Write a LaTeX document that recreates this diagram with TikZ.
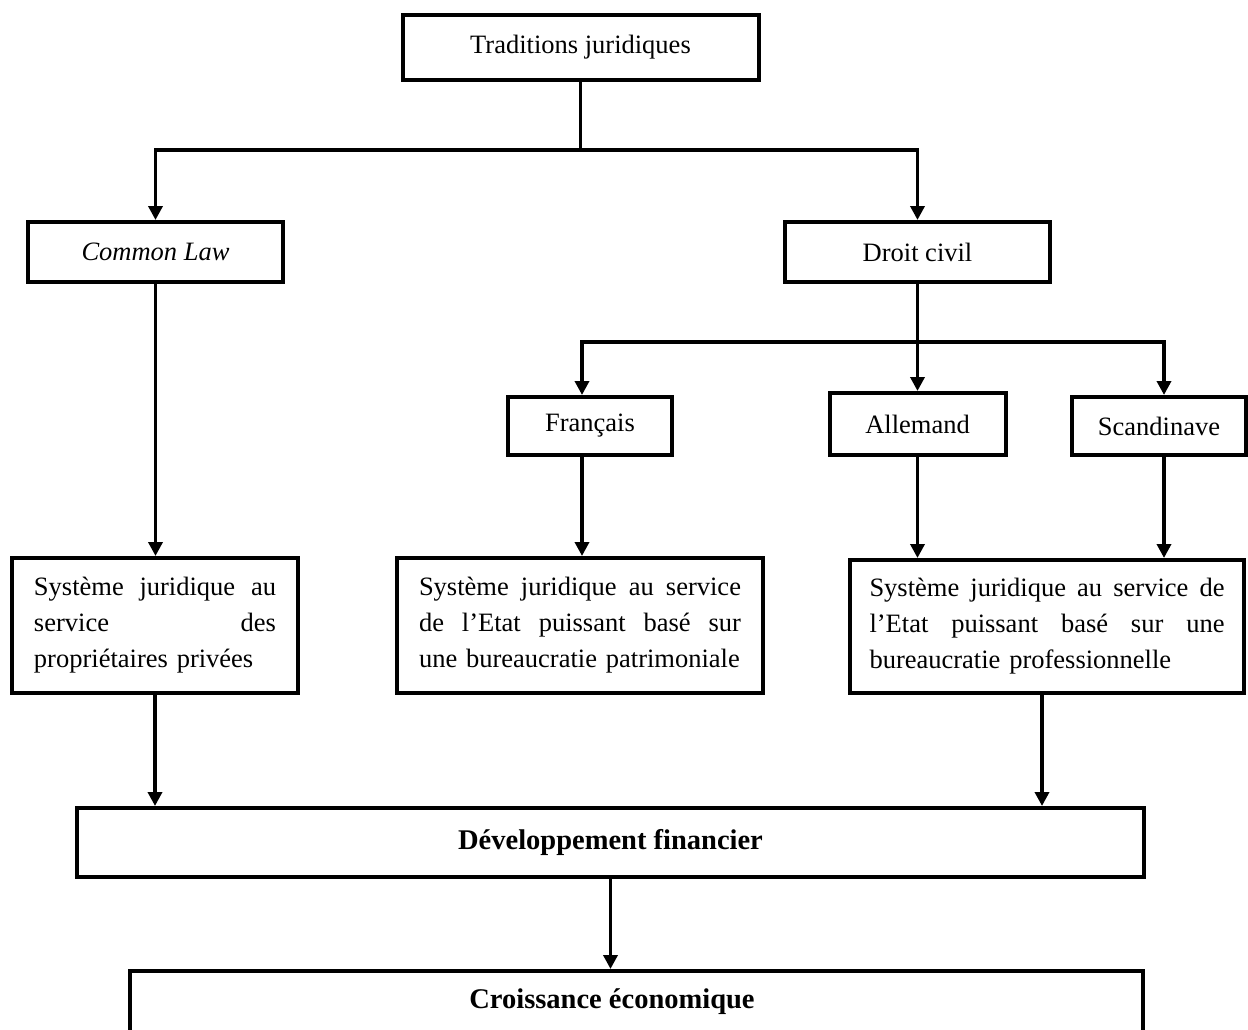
\documentclass[tikz,border=0pt]{standalone}
\usepackage{fontspec}
\setmainfont{Liberation Serif}
\usetikzlibrary{arrows.meta}
% a line spread to a given width (interword spaces grow evenly)
\newcommand\jl[2]{\leavevmode\hbox to #1{\spaceskip=0.25em plus 1fil\relax #2}}
\begin{document}
\begin{tikzpicture}[x=1pt,y=1pt,
  box/.style={draw=black,line width=4pt,fill=white,inner sep=0pt,
    font=\fontsize{26.5}{36}\selectfont},
  bigbox/.style={box,font=\fontsize{28.5}{34}\selectfont\bfseries},
  para/.style={box,align=left},
  link/.style={line width=3.5pt},
  arr/.style={link,-{Triangle[length=14pt,width=14pt]}}]
\useasboundingbox (0,0) rectangle (1248,-1030);

% level 1
\node[box,minimum width=356,minimum height=65] (trad) at (580.5,-47.5) {Traditions juridiques};
% level 2
\node[box,minimum width=255,minimum height=60] (common) at (155.5,-252) {\itshape Common Law};
\node[box,minimum width=265,minimum height=60] (civil) at (917.5,-252) {Droit civil};
% level 3
\node[box,minimum width=164,minimum height=58] (fr) at (590,-426) {Français};
\node[box,minimum width=176,minimum height=62] (de) at (917.5,-424) {Allemand};
\node[box,minimum width=174,minimum height=58] (sc) at (1159,-426) {Scandinave};
% level 4
\node[para,text width=242,minimum width=286,minimum height=135] (sys1) at (155,-625.5)
  {\jl{242pt}{Système juridique au}\\\jl{242pt}{service des}\\propriétaires privées};
\node[para,text width=322,minimum width=366,minimum height=135] (sys2) at (580,-625.5)
  {\jl{322pt}{Système juridique au service}\\\jl{322pt}{de l’Etat puissant basé sur}\\une bureaucratie patrimoniale};
\node[para,text width=355,minimum width=394,minimum height=133] (sys3) at (1047,-626.5)
  {\jl{355pt}{Système juridique au service de}\\\jl{355pt}{l’Etat puissant basé sur une}\\bureaucratie professionnelle};
% outcomes
\node[bigbox,minimum width=1067,minimum height=69] (dev) at (610.5,-842.5) {Développement financier};
\node[bigbox,minimum width=1013,minimum height=89] (croi) at (636.5,-1015.5) {};
\node[font=\fontsize{28.5}{34}\selectfont\bfseries] (croitxt) at (612,-1002) {Croissance économique};

% branching
\coordinate (j1) at (580.5,-150);
\coordinate (j2) at (917.5,-342);
\draw[link] (trad.south) -- (j1);
\draw[arr] (j1) -| (common.north);
\draw[arr] (j1) -| (civil.north);
\draw[link] (civil.south) -- (j2);
\draw[arr] (j2) -| ([xshift=-8pt]fr.north);
\draw[arr] (j2) -- (de.north);
\draw[arr] (j2) -| ([xshift=5pt]sc.north);

% down to the legal systems
\draw[arr] (common.south) -- (common.south |- sys1.north);
\draw[arr] ([xshift=-8pt]fr.south) -- ([xshift=-8pt]fr.south |- sys2.north);
\draw[arr] (de.south) -- (de.south |- sys3.north);
\draw[arr] ([xshift=5pt]sc.south) -- ([xshift=5pt]sc.south |- sys3.north);

% to the outcomes
\draw[arr] (sys1.south) -- (sys1.south |- dev.north);
\draw[arr] ([xshift=-5pt]sys3.south) -- ([xshift=-5pt]sys3.south |- dev.north);
\draw[arr] (dev.south) -- (dev.south |- croi.north);
\end{tikzpicture}
\end{document}
